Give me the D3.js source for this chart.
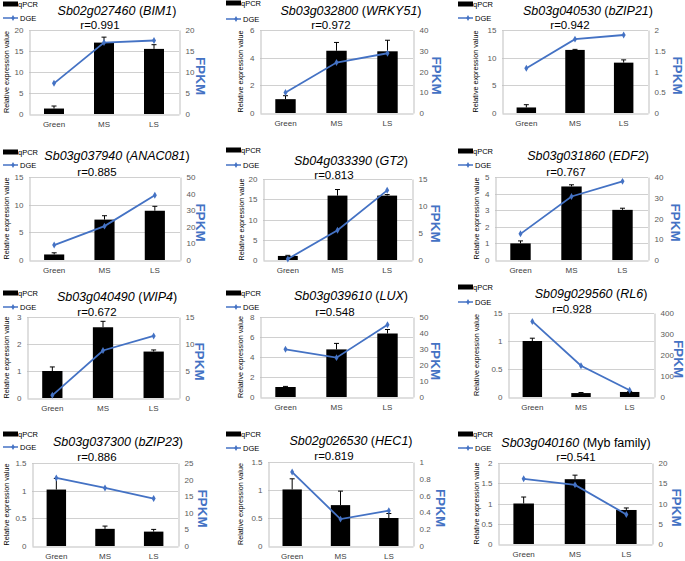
<!DOCTYPE html>
<html><head><meta charset="utf-8">
<script src="https://cdn.jsdelivr.net/npm/d3@7"></script>
<style>body{margin:0;background:#fff}svg{display:block}</style>
</head><body><svg id="c" width="685" height="561"></svg>
<script>
const categories = ["Green", "MS", "LS"];
const geneIds = ["Sb02g027460","Sb03g032800","Sb03g040530","Sb03g037940","Sb04g033390","Sb03g031860",
                 "Sb03g040490","Sb03g039610","Sb09g029560","Sb03g037300","Sb02g026530","Sb03g040160"];
const geneNames = ["BIM1","WRKY51","bZIP21","ANAC081","GT2","EDF2","WIP4","LUX","RL6","bZIP23","HEC1","Myb family"];
const geneNameItalic = [true,true,true,true,true,true,true,true,true,true,true,false];
const rValues = ["0.991","0.972","0.942","0.885","0.813","0.767","0.672","0.548","0.928","0.886","0.819","0.541"];
const qpcrValues = [
  [1.3, 17.0, 15.5], [1.0, 4.5, 4.46], [1.0, 11.4, 9.1], [1.0, 7.3, 8.9],
  [1.0, 15.9, 15.9], [1.0, 4.43, 3.02], [1.0, 2.62, 1.72], [1.0, 4.76, 6.35],
  [1.0, 0.07, 0.09], [1.02, 0.31, 0.26], [1.01, 0.73, 0.5], [1.0, 1.6, 0.84]
];
const qpcrErrors = [
  [0.6, 1.3, 1.0], [0.25, 0.6, 0.8], [0.5, 0.1, 0.5], [0.3, 0.7, 0.8],
  [0.15, 1.5, 0.25], [0.15, 0.1, 0.1], [0.15, 0.22, 0.06], [0.06, 0.6, 0.4],
  [0.05, 0.01, 0.01], [0.2, 0.05, 0.04], [0.19, 0.25, 0.08], [0.16, 0.1, 0.05]
];
const dgeValues = [
  [7.3, 17.0, 17.5], [9.9, 24.3, 28.8], [1.08, 1.78, 1.88], [9.0, 20.4, 39.0],
  [0.2, 5.5, 12.9], [12.6, 30.6, 37.9], [0.5, 8.8, 11.5], [29.8, 24.6, 45.2],
  [360, 149, 32], [20.5, 17.5, 14.3], [0.88, 0.32, 0.42], [16.1, 14.6, 7.3]
];
const leftTicks = [
  [0,5,10,15,20], [0,2,4,6], [0,5,10,15], [0,5,10,15],
  [0,5,10,15,20], [0,1,2,3,4,5], [0,1,2,3], [0,2,4,6,8],
  [0,0.5,1,1.5], [0,0.5,1,1.5], [0,0.5,1,1.5], [0,0.5,1,1.5,2]
];
const leftTickLabels = [
  ["0","5","10","15","20"], ["0","2","4","6"], ["0","5","10","15"], ["0","5","10","15"],
  ["0","5","10","15","20"], ["0","1","2","3","4","5"], ["0","1","2","3"], ["0","2","4","6","8"],
  ["0","0.5","1","15"], ["0","0.5","1","1.5"], ["0","0.5","1","1.5"], ["0","0.5","1","1.5","2"]
];
const rightTicks = [
  [0,5,10,15,20], [0,10,20,30,40], [0,0.5,1,1.5,2], [0,10,20,30,40,50],
  [0,5,10,15], [0,10,20,30,40], [0,5,10,15], [0,10,20,30,40,50],
  [0,100,200,300,400], [0,5,10,15,20,25], [0,0.2,0.4,0.6,0.8,1], [0,5,10,15,20]
];

// layout (positions only)
const layout = [
  {L:29, R:179, T:30, B:114, tx:117, ty:11, rx:100, ry:25, lx:3, l1:4, l2:18, yt:6, fx:200},
  {L:260, R:413, T:30, B:113, tx:351, ty:11, rx:331, ry:25, lx:226, l1:3, l2:19, yt:240, fx:436},
  {L:502, R:648, T:30, B:113, tx:588, ty:11, rx:570, ry:25, lx:458, l1:4, l2:18, yt:475, fx:677},
  {L:29, R:180, T:177, B:260, tx:117, ty:156, rx:97, ry:172, lx:3, l1:152, l2:165, yt:6, fx:200},
  {L:263, R:412, T:179, B:260, tx:351, ty:161, rx:334, ry:175, lx:226, l1:150, l2:165, yt:241, fx:435},
  {L:495, R:648, T:177, B:260, tx:588, ty:156, rx:566, ry:172, lx:458, l1:151, l2:165, yt:476, fx:675},
  {L:27, R:179, T:317, B:398, tx:117, ty:297, rx:97, ry:312, lx:3, l1:293, l2:307, yt:6, fx:199},
  {L:260, R:413, T:317, B:397, tx:351, ty:296, rx:335, ry:312, lx:226, l1:293, l2:307, yt:240, fx:435},
  {L:508, R:654, T:313, B:397, tx:591, ty:294, rx:572, ry:309, lx:458, l1:287, l2:302, yt:476, fx:678},
  {L:32, R:178, T:463, B:546, tx:118, ty:442, rx:97, ry:457, lx:3, l1:434, l2:447, yt:6, fx:202},
  {L:268, R:413, T:462, B:546, tx:351, ty:441, rx:334, ry:456, lx:226, l1:434, l2:448, yt:240, fx:440},
  {L:498, R:652, T:463, B:544, tx:576, ty:443, rx:576, ry:457, lx:458, l1:434, l2:448, yt:476, fx:676}
];

const BLUE = "#4472C4";
const FONT = "Liberation Sans, Arial, sans-serif";
const svg = d3.select("#c").style("font-family", FONT);
svg.append("rect").attr("width",685).attr("height",561).attr("fill","#fff");

geneIds.forEach((gid, i) => {
  const lo = layout[i];
  const g = svg.append("g");
  const lt = leftTicks[i], rt = rightTicks[i];
  const y = d3.scaleLinear().domain([0, lt[lt.length-1]]).range([lo.B, lo.T]);
  const y2 = d3.scaleLinear().domain([0, rt[rt.length-1]]).range([lo.B, lo.T]);
  const x = d3.scaleBand().domain(categories).range([lo.L, lo.R]).paddingInner(0.6).paddingOuter(0.3);

  // gridlines
  g.selectAll(".grid").data(lt.slice(1)).join("line")
    .attr("x1", lo.L).attr("x2", lo.R)
    .attr("y1", d => Math.round(y(d))+0.5).attr("y2", d => Math.round(y(d))+0.5)
    .attr("stroke", "#d0d0d0").attr("stroke-width", 1);

  // left axis
  const ax = d3.axisLeft(y).tickValues(lt).tickSize(0).tickPadding(6)
    .tickFormat((d, k) => leftTickLabels[i][k]);
  const ga = g.append("g").attr("transform", `translate(${Math.round(lo.L)+0.5},0)`).call(ax);
  ga.select(".domain").attr("stroke", "#bfbfbf");
  ga.selectAll("text").attr("font-size", 8).attr("fill", "#595959").attr("font-family", FONT);

  // right axis
  const ax2 = d3.axisRight(y2).tickValues(rt).tickSize(0).tickPadding(6)
    .tickFormat(d3.format("~g"));
  const gb = g.append("g").attr("transform", `translate(${Math.round(lo.R)+0.5},0)`).call(ax2);
  gb.select(".domain").attr("stroke", "#bfbfbf");
  gb.selectAll("text").attr("font-size", 8).attr("fill", "#595959").attr("font-family", FONT);

  // bottom axis
  const ax3 = d3.axisBottom(x).tickSize(0).tickPadding(7);
  const gc = g.append("g").attr("transform", `translate(0,${Math.round(lo.B)+0.5})`).call(ax3);
  gc.select(".domain").attr("stroke", "#bfbfbf");
  gc.selectAll("text").attr("font-size", 8).attr("fill", "#404040").attr("font-family", FONT);

  // bars
  const vals = qpcrValues[i];
  g.selectAll(".bar").data(vals).join("rect")
    .attr("x", (d, k) => x(categories[k]))
    .attr("width", x.bandwidth())
    .attr("y", d => y(d)).attr("height", d => lo.B - y(d))
    .attr("fill", "#000");

  // error bars
  const errs = qpcrErrors[i];
  vals.forEach((v, k) => {
    const cx = x(categories[k]) + x.bandwidth()/2;
    g.append("line").attr("x1", cx).attr("x2", cx).attr("y1", y(v)).attr("y2", y(v + errs[k]))
      .attr("stroke", "#000").attr("stroke-width", 1);
    g.append("line").attr("x1", cx-2.5).attr("x2", cx+2.5).attr("y1", y(v + errs[k])).attr("y2", y(v + errs[k]))
      .attr("stroke", "#000").attr("stroke-width", 1);
  });

  // DGE line
  const pts = dgeValues[i].map((d, k) => [x(categories[k]) + x.bandwidth()/2, y2(d)]);
  g.append("path").attr("d", d3.line()(pts)).attr("fill", "none")
    .attr("stroke", BLUE).attr("stroke-width", 1.8);
  g.selectAll(".pt").data(pts).join("path")
    .attr("d", d3.symbol(d3.symbolDiamond, 14)())
    .attr("transform", d => `translate(${d[0]},${d[1]})`)
    .attr("fill", BLUE);

  // title
  const t = g.append("text").attr("x", lo.tx).attr("y", lo.ty).attr("text-anchor", "middle")
    .attr("dominant-baseline", "central").attr("font-size", 12.5).attr("fill", "#000");
  t.append("tspan").attr("font-style", "italic").text(gid);
  if (geneNameItalic[i]) {
    t.append("tspan").text(" (");
    t.append("tspan").attr("font-style", "italic").text(geneNames[i]);
    t.append("tspan").text(")");
  } else {
    t.append("tspan").text(" (" + geneNames[i] + ")");
  }
  g.append("text").attr("x", lo.rx).attr("y", lo.ry).attr("text-anchor", "middle")
    .attr("dominant-baseline", "central").attr("font-size", 11.5).attr("fill", "#000")
    .text("r=" + rValues[i]);

  // y-axis titles
  const cy = (lo.T + lo.B) / 2;
  g.append("text").attr("transform", `translate(${lo.yt},${cy}) rotate(-90)`)
    .attr("text-anchor", "middle").attr("dominant-baseline", "central")
    .attr("font-size", 7.2).attr("fill", "#000").text("Relative expression value");
  g.append("text").attr("transform", `translate(${lo.fx},${cy + 4}) rotate(90)`)
    .attr("text-anchor", "middle").attr("dominant-baseline", "central")
    .attr("font-size", 13.5).attr("font-weight", "bold").attr("fill", BLUE).text("FPKM");

  // legend
  g.append("rect").attr("x", lo.lx).attr("y", lo.l1 - 2.5).attr("width", 15).attr("height", 5).attr("fill", "#000");
  g.append("text").attr("x", lo.lx + 15).attr("y", lo.l1).attr("dominant-baseline", "central")
    .attr("font-size", 7.5).attr("fill", "#000").text("qPCR");
  g.append("line").attr("x1", lo.lx).attr("x2", lo.lx + 15).attr("y1", lo.l2).attr("y2", lo.l2)
    .attr("stroke", BLUE).attr("stroke-width", 1.5);
  g.append("path").attr("d", d3.symbol(d3.symbolDiamond, 10)())
    .attr("transform", `translate(${lo.lx + 10},${lo.l2})`).attr("fill", BLUE);
  g.append("text").attr("x", lo.lx + 17).attr("y", lo.l2).attr("dominant-baseline", "central")
    .attr("font-size", 7.5).attr("fill", "#000").text("DGE");
});
</script>
</body></html>
